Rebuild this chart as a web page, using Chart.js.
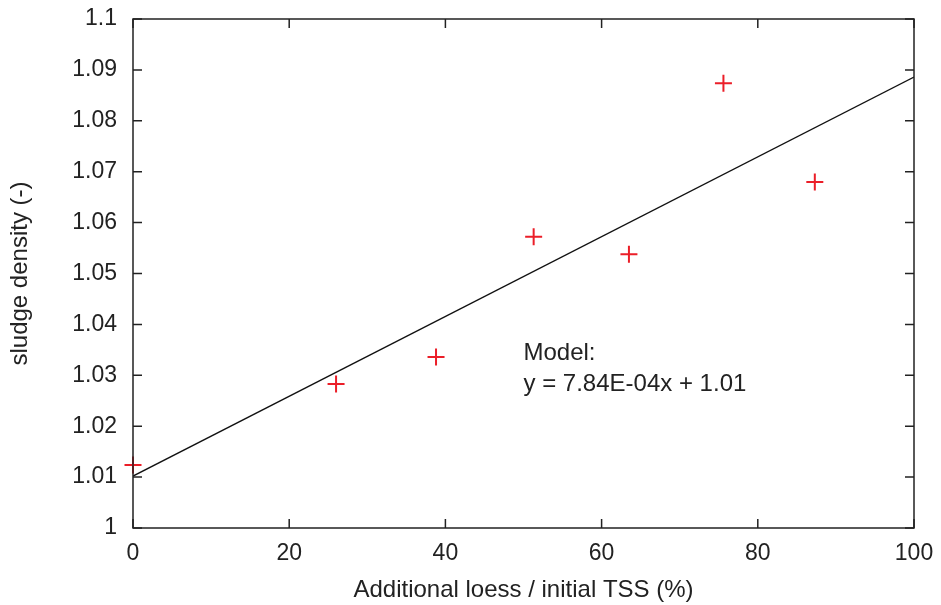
<!DOCTYPE html>
<html>
<head>
<meta charset="utf-8">
<script src="https://cdn.jsdelivr.net/npm/chart.js@4"></script>
<style>
  html, body { margin: 0; padding: 0; background: #fff; }
  #wrap { width: 941px; height: 605px; }
</style>
</head>
<body>
<div id="wrap"><canvas id="chart" width="941" height="605"></canvas></div>
<script>
// measured points
const loessX = [0, 26.0, 38.8, 51.3, 63.5, 75.6, 87.3];
const densityY = [1.0124, 1.0283, 1.0336, 1.0572, 1.0538, 1.0874, 1.0680];

// model line end points
const fitX = [0, 100];
const fitY = [1.0102, 1.0886];

const xTicks = [0, 20, 40, 60, 80, 100];
const yTicks = [1, 1.01, 1.02, 1.03, 1.04, 1.05, 1.06, 1.07, 1.08, 1.09, 1.1];

const modelText = ["Model:", "y = 7.84E-04x + 1.01"];

const ink = "#222";
const fontFamily = "'Liberation Sans', Arial, Helvetica, sans-serif";

// gnuplot style frame: box border + inward ticks on all four sides
const framePlugin = {
    id: "frame",
    afterDatasetsDraw(chart) {
        const { ctx, chartArea: a, scales } = chart;
        const len = 9;
        ctx.save();
        ctx.strokeStyle = ink;
        ctx.lineWidth = 1.5;
        ctx.beginPath();
        xTicks.forEach(v => {
            const px = scales.x.getPixelForValue(v);
            ctx.moveTo(px, a.bottom); ctx.lineTo(px, a.bottom - len);
            ctx.moveTo(px, a.top); ctx.lineTo(px, a.top + len);
        });
        yTicks.forEach(v => {
            const py = scales.y.getPixelForValue(v);
            ctx.moveTo(a.left, py); ctx.lineTo(a.left + len, py);
            ctx.moveTo(a.right, py); ctx.lineTo(a.right - len, py);
        });
        ctx.stroke();
        ctx.strokeRect(a.left, a.top, a.right - a.left, a.bottom - a.top);

        // model annotation
        ctx.fillStyle = ink;
        ctx.font = "24px " + fontFamily;
        ctx.textAlign = "left";
        ctx.textBaseline = "middle";
        const tx = scales.x.getPixelForValue(50);
        ctx.fillText(modelText[0], tx, scales.y.getPixelForValue(1.0343));
        ctx.fillText(modelText[1], tx, scales.y.getPixelForValue(1.0283));
        ctx.restore();
    }
};

const noScalePad = s => {
    s.paddingLeft = 0; s.paddingRight = 0;
    s.paddingTop = 0; s.paddingBottom = 0;
};

new Chart(document.getElementById("chart"), {
    type: "scatter",
    data: {
        datasets: [
            {
                label: "model",
                type: "line",
                data: fitX.map((x, i) => ({ x: x, y: fitY[i] })),
                borderColor: "#111",
                borderWidth: 1.3,
                pointRadius: 0,
                fill: false
            },
            {
                label: "measured",
                data: loessX.map((x, i) => ({ x: x, y: densityY[i] })),
                pointStyle: "cross",
                pointRadius: 8.5,
                borderWidth: 2,
                borderColor: "rgb(235,30,40)",
                backgroundColor: "rgb(235,30,40)",
                clip: false
            }
        ]
    },
    options: {
        responsive: false,
        animation: false,
        layout: { padding: { top: 19, right: 27, left: 0, bottom: 0 } },
        plugins: {
            legend: { display: false },
            tooltip: { enabled: false }
        },
        scales: {
            x: {
                type: "linear",
                min: 0,
                max: 100,
                afterBuildTicks: s => { s.ticks = xTicks.map(v => ({ value: v })); },
                afterFit: s => { s.height = 77; noScalePad(s); },
                grid: { display: false, drawTicks: false },
                border: { display: false },
                ticks: {
                    color: ink,
                    padding: 12,
                    font: { family: fontFamily, size: 23 }
                },
                title: {
                    display: true,
                    text: "Additional loess / initial TSS (%)",
                    color: ink,
                    font: { family: fontFamily, size: 24 },
                    padding: { top: 0, bottom: 0 }
                }
            },
            y: {
                type: "linear",
                min: 1,
                max: 1.1,
                afterBuildTicks: s => { s.ticks = yTicks.map(v => ({ value: v })); },
                afterFit: s => { s.width = 133; noScalePad(s); },
                grid: { display: false, drawTicks: false },
                border: { display: false },
                ticks: {
                    color: ink,
                    padding: 16,
                    font: { family: fontFamily, size: 23 },
                    callback: v => String(+v.toFixed(2))
                },
                title: {
                    display: true,
                    text: "sludge density (-)",
                    color: ink,
                    font: { family: fontFamily, size: 24 },
                    padding: { top: 6, bottom: 0 }
                }
            }
        }
    },
    plugins: [framePlugin]
});
</script>
</body>
</html>
